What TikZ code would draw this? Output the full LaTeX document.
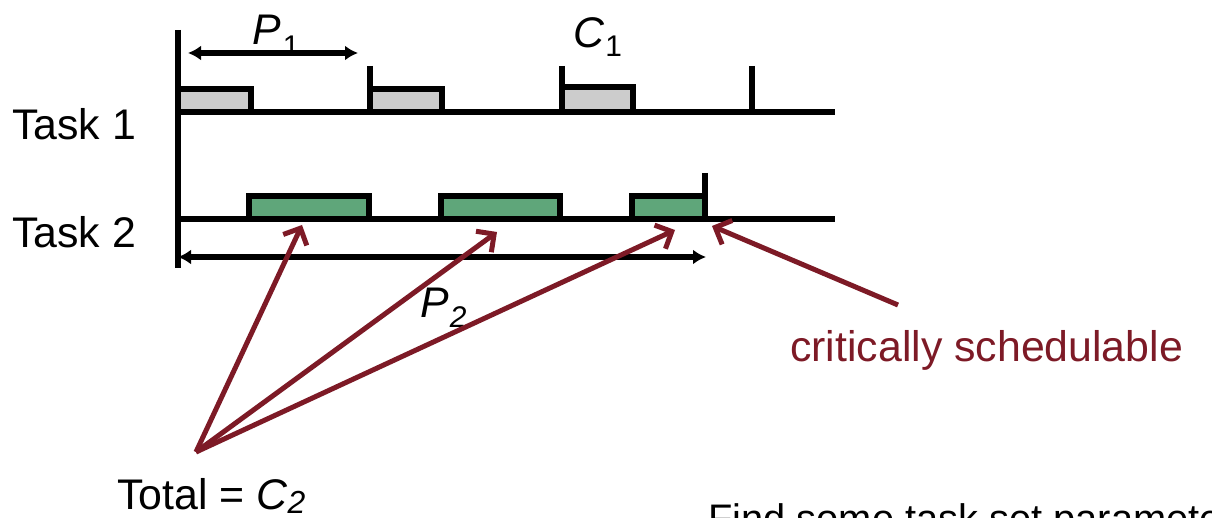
\documentclass[tikz,border=0pt]{standalone}
\usepackage{fontspec}
\setmainfont{Liberation Sans}
\usetikzlibrary{arrows.meta}
\definecolor{dred}{HTML}{7D1A26}
\definecolor{tgreen}{HTML}{5FA67A}
\definecolor{tgray}{HTML}{CCCCCC}
\tikzset{
  axis/.style={line width=5.5bp, black},
  job1/.style={draw=black, line width=5.5bp, fill=tgray},
  job2/.style={draw=black, line width=5.5bp, fill=tgreen},
  period/.style={line width=5.5bp, {Latex[length=13bp,width=15bp]}-{Latex[length=13bp,width=15bp]}},
  pointer/.style={dred, line width=5bp, -{Straight Barb[length=13bp,width=26bp,line width=5bp]}},
  lbl/.style={font=\fontsize{43}{50}\selectfont, inner sep=0pt},
}
\begin{document}
\begin{tikzpicture}[x=1bp,y=-1bp]
\useasboundingbox (0,0) rectangle (1212,518);
\clip (0,0) rectangle (1212,518);
% axes
\draw[axis] (178,30) -- (178,268);
\draw[axis] (178,112) -- (835,112);
\draw[axis] (178,219) -- (835,219);
% task 1 jobs
\draw[job1] (178,89) rectangle (251,112);
\draw[job1] (370,89) rectangle (442,112);
\draw[job1] (562,87) rectangle (633,112);
\draw[axis] (370,66) -- (370,112);
\draw[axis] (562,66) -- (562,112);
\draw[axis] (752,66) -- (752,112);
% task 2 jobs
\draw[job2] (249,196) rectangle (369,219);
\draw[job2] (441,196) rectangle (560,219);
\draw[job2] (632,196) rectangle (705,219);
\draw[axis] (705,173) -- (705,219);
% periods
\coordinate (p1a) at (188,53);
\coordinate (p1b) at (358,53);
\draw[period] (p1a) -- (p1b);
\coordinate (p2a) at (178,257);
\coordinate (p2b) at (706,257);
\draw[period] (p2a) -- (p2b);
% labels
\node[lbl, anchor=west] (t1) at (12,124) {Task 1};
\node[lbl, anchor=west] (t2) at (12,232) {Task 2};
\node[lbl, anchor=base west] (P1) at (252,45) {\textit{P}\kern2bp\raisebox{-12bp}{\fontsize{30}{30}\selectfont 1}};
\node[lbl, anchor=base west] (C1) at (573,48) {\textit{C}\kern1bp\raisebox{-9bp}{\fontsize{30}{30}\selectfont 1}};
\node[lbl, anchor=base west] (P2) at (420,318) {\textit{P}\kern1bp\raisebox{-10bp}{\fontsize{30}{30}\selectfont\textit{2}}};
\node[lbl, anchor=base west, text=dred] (crit) at (790,362) {critically schedulable};
\node[lbl, anchor=base west] (total) at (117,509) {Total = \textit{C}\raisebox{-4bp}{\fontsize{32}{32}\selectfont\textit{2}}};
\node[lbl, anchor=base west, font=\fontsize{40}{46}\selectfont] (find) at (708,532) {Find some task set parameters};
% pointers
\coordinate (src) at (196,452);
\coordinate (a1) at (302,225);
\coordinate (a2) at (497,232);
\coordinate (a3) at (675,230);
\coordinate (cs) at (898,305);
\coordinate (a4) at (712,226);
\draw[pointer] (src) -- (a1);
\draw[pointer] (src) -- (a2);
\draw[pointer] (src) -- (a3);
\draw[pointer] (cs) -- (a4);
\end{tikzpicture}
\end{document}
